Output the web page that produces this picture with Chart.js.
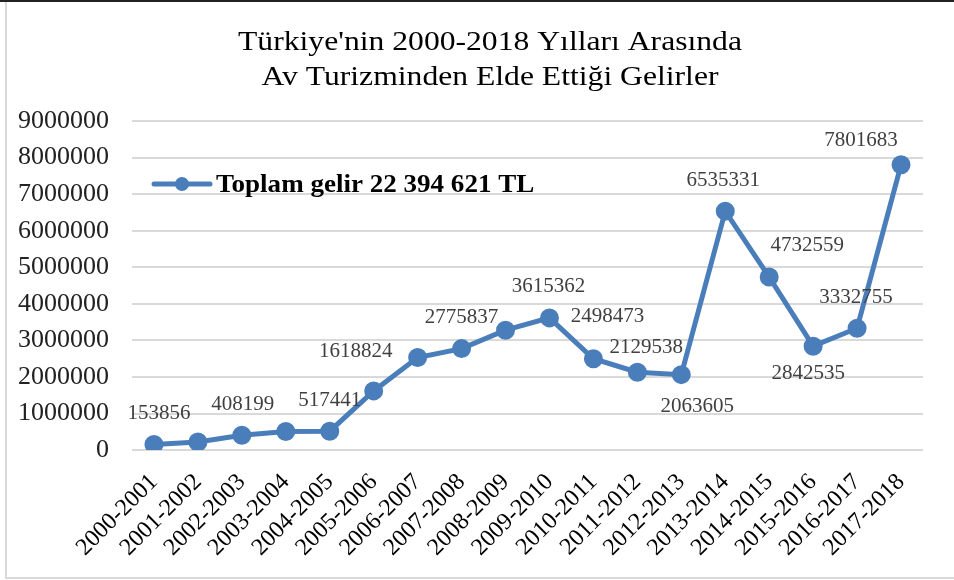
<!DOCTYPE html>
<html>
<head>
<meta charset="utf-8">
<script src="https://cdn.jsdelivr.net/npm/chart.js@4"></script>
<style>
  body { margin: 0; background: #fff; }
  #wrap { position: relative; width: 954px; height: 580px; }
  #frameTop { position: absolute; left: 0; top: 0; width: 954px; height: 2px; background: #222; }
  #frameLeft { position: absolute; left: 5px; top: 2px; width: 2px; height: 576px; background: #d9d9d9; }
  #frameBottom { position: absolute; left: 5px; top: 577px; width: 949px; height: 2px; background: #d9d9d9; }
</style>
</head>
<body>
<div id="wrap">
  <canvas id="gelirChart"></canvas>
  <div id="frameTop"></div>
  <div id="frameLeft"></div>
  <div id="frameBottom"></div>
</div>
<script>
// Data
const titleLines = ["Türkiye'nin 2000-2018 Yılları Arasında", "Av Turizminden Elde Ettiği Gelirler"];
const seriesLabel = 'Toplam gelir 22 394 621 TL';
const years = ['2000-2001', '2001-2002', '2002-2003', '2003-2004', '2004-2005', '2005-2006',
  '2006-2007', '2007-2008', '2008-2009', '2009-2010', '2010-2011', '2011-2012',
  '2012-2013', '2013-2014', '2014-2015', '2015-2016', '2016-2017', '2017-2018'];
const gelir = [153856, 220000, 408199, 510000, 517441, 1618824, 2530000, 2775837, 3280000,
  3615362, 2498473, 2129538, 2063605, 6535331, 4732559, 2842535, 3332755, 7801683];
// which points carry a value label in the original
const labelledPoints = [0, 2, 4, 5, 7, 9, 10, 11, 12, 13, 14, 15, 16, 17];
const yTicks = { min: 0, max: 9000000, step: 1000000 };

const lineBlue = '#4a7ebb';
const serif = "'Liberation Serif', 'Times New Roman', serif";

// Title drawn as two centred lines (slightly widened like the original)
const titlePlugin = {
    id: 'twoLineTitle',
    afterDraw(chart, args, opts) {
        const ctx = chart.ctx;
        ctx.save();
        ctx.fillStyle = '#000';
        ctx.font = '28px ' + serif;
        ctx.textAlign = 'center';
        ctx.textBaseline = 'alphabetic';
        ctx.translate(opts.x, opts.y);
        ctx.scale(1.13, 1);
        titleLines.forEach((line, i) => {
            ctx.fillText(line, 0, i * 35);
        });
        ctx.restore();
    }
};

// Legend sitting inside the plot area
const legendPlugin = {
    id: 'innerLegend',
    afterDraw(chart, args, opts) {
        const ctx = chart.ctx;
        const ds = chart.data.datasets[0];
        ctx.save();
        ctx.strokeStyle = ds.borderColor;
        ctx.lineWidth = ds.borderWidth;
        ctx.lineCap = 'round';
        ctx.beginPath();
        ctx.moveTo(opts.x, opts.y);
        ctx.lineTo(opts.x + 56, opts.y);
        ctx.stroke();
        ctx.fillStyle = ds.pointBackgroundColor;
        ctx.beginPath();
        ctx.arc(opts.x + 28, opts.y, ds.pointRadius, 0, Math.PI * 2);
        ctx.fill();
        ctx.fillStyle = '#000';
        ctx.font = 'bold 26px ' + serif;
        ctx.textBaseline = 'middle';
        ctx.translate(opts.x + 62, opts.y + 1);
        ctx.scale(1.04, 1);
        ctx.fillText(ds.label, 0, 0);
        ctx.restore();
    }
};

// Value labels next to points
const pointLabelPlugin = {
    id: 'pointLabels',
    afterDatasetsDraw(chart, args, opts) {
        const ctx = chart.ctx;
        const meta = chart.getDatasetMeta(0);
        const data = chart.data.datasets[0].data;
        ctx.save();
        ctx.fillStyle = '#404040';
        ctx.font = '21px ' + serif;
        ctx.textAlign = 'center';
        ctx.textBaseline = 'middle';
        labelledPoints.forEach((i, k) => {
            const pt = meta.data[i];
            const off = opts.offsets[k];
            ctx.fillText(String(data[i]), pt.x + off[0], pt.y + off[1]);
        });
        ctx.restore();
    }
};

const ctx = document.getElementById('gelirChart').getContext('2d');
const gelirChart = new Chart(ctx, {
    type: 'line',
    data: {
        labels: years,
        datasets: [{
            label: seriesLabel,
            data: gelir,
            borderColor: lineBlue,
            backgroundColor: lineBlue,
            pointBackgroundColor: lineBlue,
            pointBorderColor: lineBlue,
            borderWidth: 5,
            pointRadius: 7,
            tension: 0,
        }]
    },
    options: {
        responsive: true,
        maintainAspectRatio: false,
        animation: false,
        layout: { padding: { top: 121, right: 31, bottom: 8, left: 0 } },
        plugins: {
            legend: { display: false },
            title: { display: false },
            tooltip: { enabled: false },
            twoLineTitle: { x: 490, y: 50 },
            innerLegend: { x: 154, y: 184 },
            pointLabels: {
                offsets: [[5, -31], [1, -31], [0, -31], [-18, -39], [0, -31], [-1, -31],
                    [14, -42], [9, -25], [16, 32], [-2, -31], [38, -32], [-5, 27],
                    [-1, -31], [-40, -24]]
            }
        },
        scales: {
            x: {
                offset: true,
                grid: { display: false, offset: true },
                border: { display: false },
                ticks: {
                    color: '#000',
                    font: { family: serif, size: 24 },
                    maxRotation: 45,
                    minRotation: 45,
                    autoSkip: false,
                    padding: 10,
                }
            },
            y: {
                min: yTicks.min,
                max: yTicks.max,
                grid: { color: '#d9d9d9', lineWidth: 2, drawTicks: false },
                border: { display: false },
                afterFit(scale) { scale.width = 132; },
                ticks: {
                    stepSize: yTicks.step,
                    color: '#222',
                    font: { family: serif, size: 26 },
                    padding: 23,
                    callback: (v) => String(v)
                }
            }
        }
    },
    plugins: [pointLabelPlugin, legendPlugin, titlePlugin]
});
</script>
</body>
</html>
